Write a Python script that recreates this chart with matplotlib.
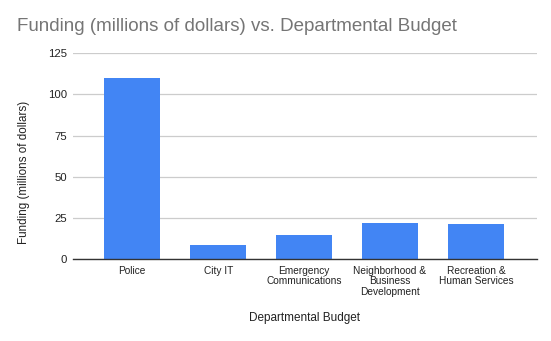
import matplotlib.pyplot as plt

plt.rcParams['font.family'] = ['Liberation Sans', 'DejaVu Sans']

departments = ["Police", "City IT", "Emergency\nCommunications",
               "Neighborhood &\nBusiness\nDevelopment", "Recreation &\nHuman Services"]
funding = [110, 8.5, 14.8, 21.9, 21.4]
yticks = [0, 25, 50, 75, 100, 125]

fig = plt.figure(figsize=(5.51, 3.41), dpi=100)
ax = fig.add_axes([0.1325, 0.2396, 0.842, 0.6041])

x = range(len(departments))
ax.bar(x, funding, width=0.65, color="#4285F4", zorder=3)

ax.set_xlim(-0.69, 4.71)
ax.set_ylim(0, 125)
ax.set_yticks(yticks)
ax.set_yticklabels([str(t) for t in yticks], fontsize=8.2, color="#222222")
ax.set_xticks(list(x))
ax.set_xticklabels(departments, fontsize=7.3, color="#222222", linespacing=1.08)
ax.tick_params(axis="y", length=0, pad=4.3)
ax.tick_params(axis="x", length=0, pad=4.5)

ax.grid(axis="y", color="#cccccc", linewidth=0.9, zorder=0)
for side in ["top", "right", "left"]:
    ax.spines[side].set_visible(False)
ax.spines["bottom"].set_color("#333333")
ax.spines["bottom"].set_linewidth(1.0)
ax.spines["bottom"].set_zorder(4)

ax.set_ylabel("Funding (millions of dollars)", fontsize=8.4, color="#222222", va="center")
ax.yaxis.set_label_coords(-0.1056, 0.421)
ax.set_xlabel("Departmental Budget", fontsize=8.5, color="#222222", va="center")
ax.xaxis.set_label_coords(0.499, -0.285)

fig.text(0.031, 0.909, "Funding (millions of dollars) vs. Departmental Budget",
         fontsize=13.5, color="#757575", va="baseline", ha="left")

fig.savefig("out.png", dpi=100)
